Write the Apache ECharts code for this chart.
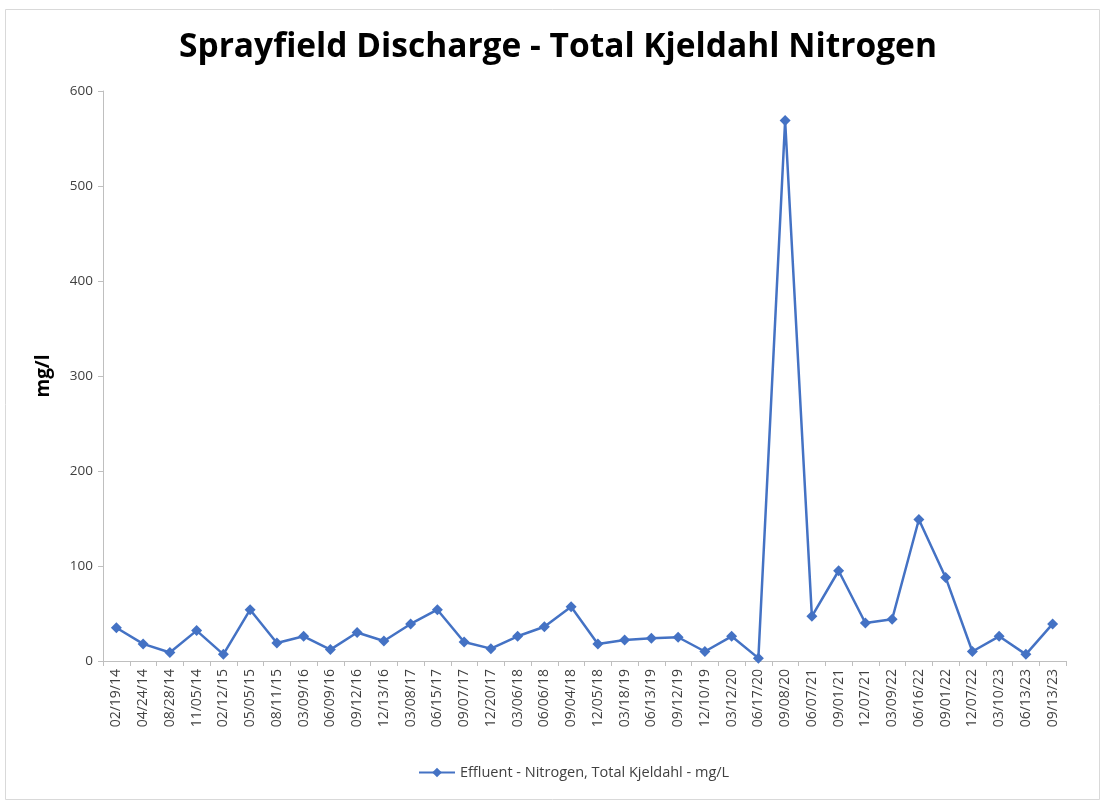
<!DOCTYPE html>
<html>
<head>
<meta charset="utf-8">
<script src="https://cdn.jsdelivr.net/npm/echarts@6/dist/echarts.min.js"></script>
<style>html,body{margin:0;padding:0;background:#fff;}#c{width:1100px;height:801px;}</style>
</head>
<body>
<div id="c"></div>
<script>
const titleText = 'Sprayfield Discharge - Total Kjeldahl Nitrogen';
const seriesName = 'Effluent - Nitrogen, Total Kjeldahl - mg/L';
const yAxisName = 'mg/l';
const categories = ['02/19/14','04/24/14','08/28/14','11/05/14','02/12/15','05/05/15','08/11/15','03/09/16','06/09/16','09/12/16','12/13/16','03/08/17','06/15/17','09/07/17','12/20/17','03/06/18','06/06/18','09/04/18','12/05/18','03/18/19','06/13/19','09/12/19','12/10/19','03/12/20','06/17/20','09/08/20','06/07/21','09/01/21','12/07/21','03/09/22','06/16/22','09/01/22','12/07/22','03/10/23','06/13/23','09/13/23'];
const values = [35,18,9,32,7,54,19,26,12,30,21,39,54,20,13,26,36,57,18,22,24,25,10,26,3,569,47,95,40,44,149,88,10,26,7,39];
const yTicks = [0,100,200,300,400,500,600];

const chart = echarts.init(document.getElementById('c'));
chart.setOption({
  animation: false,
  backgroundColor: '#fff',
  graphic: [{
    type: 'rect', left: 3, top: 7, shape: {x: 0, y: 0, width: 1094, height: 790},
    style: {fill: 'none', stroke: '#d9d9d9', lineWidth: 1}, silent: true, z: -1
  }],
  title: {
    text: titleText, left: 174, top: 25,
    textStyle: {fontFamily: 'Open Sans', fontWeight: 'bold', fontSize: 33.5, color: '#000'}
  },
  grid: {left: 103, right: 34, top: 91, bottom: 140, containLabel: false},
  legend: {
    bottom: 16, left: 413, itemWidth: 36, itemHeight: 12, itemGap: 4,
    textStyle: {fontFamily: 'Open Sans', fontSize: 14.5, color: '#404040'},
    data: [seriesName]
  },
  xAxis: {
    type: 'category', data: categories, boundaryGap: true,
    axisLine: {lineStyle: {color: '#bfbfbf'}},
    axisTick: {show: true, alignWithLabel: false, length: 5, lineStyle: {color: '#bfbfbf'}},
    axisLabel: {rotate: 90, interval: 0, fontFamily: 'Open Sans', fontSize: 14, color: '#404040', margin: 8}
  },
  yAxis: {
    type: 'value', min: yTicks[0], max: yTicks[yTicks.length - 1], interval: 100,
    name: yAxisName, nameLocation: 'middle', nameGap: 50, nameRotate: 90,
    nameTextStyle: {fontFamily: 'Open Sans', fontWeight: 'bold', fontSize: 19, color: '#000'},
    axisLine: {show: true, lineStyle: {color: '#bfbfbf'}},
    axisTick: {show: true, length: 5, lineStyle: {color: '#bfbfbf'}},
    splitLine: {show: false},
    axisLabel: {fontFamily: 'Open Sans', fontSize: 13.5, color: '#404040', margin: 10}
  },
  series: [{
    name: seriesName, type: 'line', data: values,
    symbol: 'diamond', symbolSize: 11,
    lineStyle: {color: '#4472C4', width: 2.5},
    itemStyle: {color: '#4472C4'}
  }]
});
</script>
</body>
</html>
